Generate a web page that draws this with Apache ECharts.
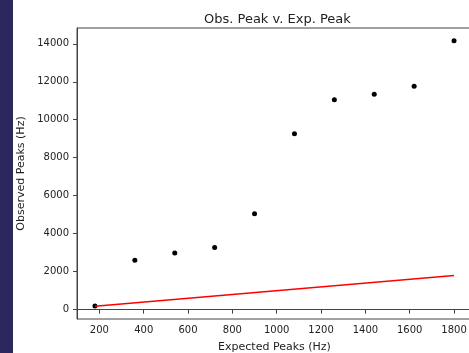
<!DOCTYPE html>
<html>
<head>
<meta charset="utf-8">
<script src="https://cdn.jsdelivr.net/npm/echarts@6/dist/echarts.min.js"></script>
<style>
html,body{margin:0;padding:0;width:469px;height:353px;overflow:hidden;background:#fff;}
#strip{position:absolute;left:0;top:0;width:13px;height:353px;background:#2b285e;}
#main{position:absolute;left:0;top:0;width:469px;height:353px;}
</style>
</head>
<body>
<div id="main"></div>
<div id="strip"></div>
<script>
// expected vs observed peak frequencies (Hz)
var expected = [180, 360, 540, 720, 900, 1080, 1260, 1440, 1620, 1800];
var observed = [190, 2600, 2980, 3280, 5050, 9260, 11050, 11340, 11760, 14160];
var refLine = [[180, 180], [1800, 1800]];
var xTicks = [200, 400, 600, 800, 1000, 1200, 1400, 1600, 1800];
var yTicks = [0, 2000, 4000, 6000, 8000, 10000, 12000, 14000];

var pts = [];
for (var i = 0; i < expected.length; i++) {
	pts.push([expected[i], observed[i]]);
}

var myChart = echarts.init(document.getElementById('main'));
var font = 'DejaVu Sans';
var plain = function(v){ return String(v); };
var option = {
	animation: false,
	title: {
		text: 'Obs. Peak v. Exp. Peak',
		left: 199, top: 8,
		textStyle: {fontFamily: font, fontSize: 13, fontWeight: 'normal', color: '#222'}
	},
	grid: {
		left: 77, top: 28, right: -3, bottom: 34,
		outerBoundsMode: 'none', containLabel: false,
		show: true, borderColor: '#444', borderWidth: 1
	},
	xAxis: {
		type: 'value', min: 99, max: 1881,
		name: 'Expected Peaks (Hz)', nameLocation: 'middle', nameGap: 23,
		nameTextStyle: {fontFamily: font, fontSize: 11, color: '#222'},
		splitLine: {show: false},
		axisLine: {lineStyle: {color: '#444', width: 1}},
		axisTick: {length: 4, lineStyle: {color: '#444'}, customValues: xTicks},
		axisLabel: {fontFamily: font, fontSize: 10, color: '#222', margin: 6, customValues: xTicks, formatter: plain}
	},
	yAxis: {
		type: 'value', min: -490, max: 14830,
		name: 'Observed Peaks (Hz)', nameLocation: 'middle', nameGap: 45,
		nameTextStyle: {fontFamily: font, fontSize: 11, color: '#222'},
		splitLine: {show: false},
		axisLine: {show: true, lineStyle: {color: '#444', width: 1}},
		axisTick: {show: true, length: 4, lineStyle: {color: '#444'}, customValues: yTicks},
		axisLabel: {fontFamily: font, fontSize: 10, color: '#222', margin: 8, customValues: yTicks, formatter: plain}
	},
	series: [
		{
			type: 'scatter', data: pts, symbolSize: 5,
			itemStyle: {color: '#000', opacity: 1}, z: 2
		},
		{
			type: 'line', data: refLine, symbol: 'none',
			lineStyle: {color: '#ff0000', width: 1.5}, z: 3
		}
	]
};
myChart.setOption(option);
</script>
</body>
</html>
